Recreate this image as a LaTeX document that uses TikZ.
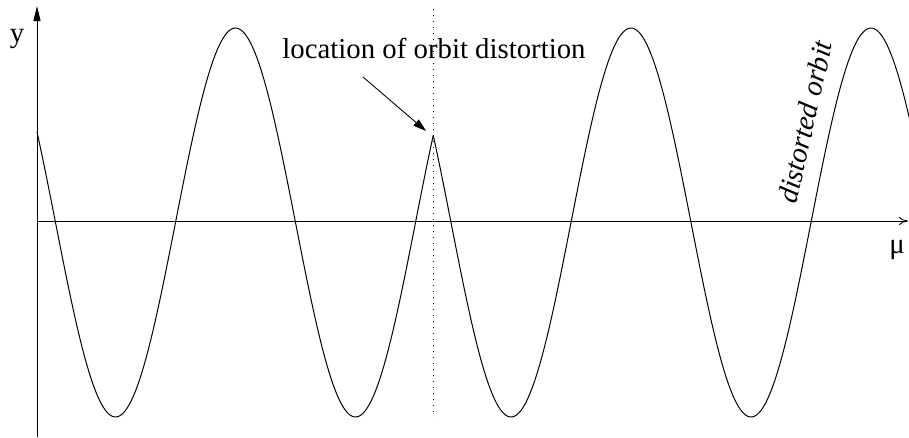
\documentclass[tikz,border=0pt]{standalone}
\usepackage{fontspec}
\setmainfont{Liberation Serif}
\usetikzlibrary{arrows.meta}
\tikzset{
  lbl/.style={inner sep=0pt, font=\fontsize{28.8}{34}\selectfont},
  axisline/.style={line width=0.9pt},
  curve/.style={line width=1pt},
}
\begin{document}
\begin{tikzpicture}[x=1pt,y=-1pt]
\useasboundingbox (0,0) rectangle (909,437);
% axes
\coordinate (ybot) at (37,437);
\coordinate (ytop) at (37,6);
\coordinate (xl) at (37,221);
\coordinate (xr) at (908,221);
\draw[axisline,-{Triangle[length=15pt,width=7pt]}] (ybot) -- (ytop);
\draw[axisline,-{To[length=9pt,width=8pt]}] (xl) -- (xr);
% dotted marker
\coordinate (dtop) at (433.25,9);
\coordinate (dbot) at (433.25,417);
\draw[line width=0.9pt,dash pattern=on 1pt off 5pt] (dtop) -- (dbot);
% curve
\begin{scope}
\clip (0,0) rectangle (909,437);
\draw[curve] plot[domain=37:433.25,samples=240] (\x,{222.5-194.5*sin(1.5*(\x-415.5))});
\draw[curve] plot[domain=433.25:912,samples=280] (\x,{222.5-194.5*sin(1.5*(451-\x))});
\end{scope}
% labels
\node[lbl,anchor=base] (ylab) at (17,42) {y};
\node[lbl,anchor=base] (mulab) at (897,253) {μ};
\node[lbl,anchor=base] (loc) at (434,58) {location of orbit distortion};
\node[lbl,rotate=77.4,font=\fontsize{28.8}{34}\selectfont\itshape] (dist) at (805,122) {distorted orbit};
\coordinate (astart) at (363,77);
\coordinate (aend) at (426,131);
\draw[line width=0.9pt,-{Triangle[length=13pt,width=8pt]}] (astart) -- (aend);
\end{tikzpicture}
\end{document}
